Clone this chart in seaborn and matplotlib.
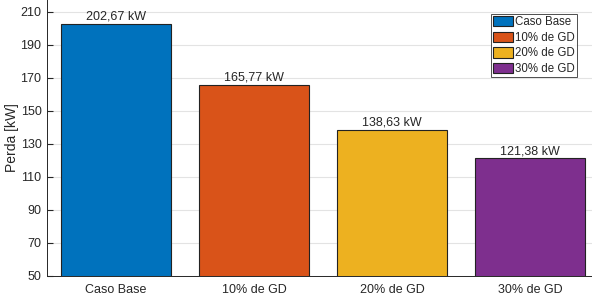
import pandas as pd
import matplotlib.pyplot as plt
import seaborn as sns

# Data
cenarios = ['Caso Base', '10% de GD', '20% de GD', '30% de GD']
perdas = [202.67, 165.77, 138.63, 121.38]
cores = ['#0072BD', '#D95319', '#EDB120', '#7E2F8E']
yticks = [50, 70, 90, 110, 130, 150, 170, 190, 210]

df = pd.DataFrame({'cenario': cenarios, 'perda': perdas})

sns.set_style('white')
plt.rcParams['font.family'] = ['Liberation Sans', 'DejaVu Sans']

fig = plt.figure(figsize=(5.92, 3.02), dpi=100)
ax = fig.add_axes([0.0794, 0.0861, 0.9206, 0.9139])

sns.barplot(data=df, x='cenario', y='perda', hue='cenario', palette=cores,
            saturation=1, width=0.8, edgecolor='#222222', linewidth=0.8,
            dodge=False, legend=False, ax=ax, zorder=3)

# value labels
for i, v in enumerate(perdas):
    ax.text(i, v + 0.6, f'{v:.2f}'.replace('.', ',') + ' kW',
            ha='center', va='bottom', fontsize=9)

ax.set_ylim(50, 217)
ax.set_xlim(-0.5, 3.45)
ax.set_yticks(yticks)
ax.yaxis.grid(True, color='#e3e3e3', linewidth=0.8, zorder=0)
ax.set_axisbelow(True)
ax.set_xlabel('')
ax.set_ylabel('Perda [kW]', fontsize=10, labelpad=1)
ax.tick_params(axis='both', labelsize=9, colors='#262626', direction='in',
               length=4.5, width=0.8)
ax.tick_params(axis='y', left=True, pad=4)
ax.tick_params(axis='x', length=0, pad=6)
for s in ['top', 'right']:
    ax.spines[s].set_visible(False)
for s in ['left', 'bottom']:
    ax.spines[s].set_color('#262626')
    ax.spines[s].set_linewidth(0.7)

# legend
handles = [plt.Rectangle((0, 0), 1, 1, facecolor=c, edgecolor='#222222', linewidth=0.8)
           for c in cores]
leg = ax.legend(handles, cenarios, loc='upper right', bbox_to_anchor=(0.972, 0.95),
                fontsize=8.3, frameon=True, fancybox=False, borderpad=0.2,
                handlelength=1.7, handleheight=1.0, handletextpad=0.15,
                labelspacing=0.3, borderaxespad=0.0)
leg.get_frame().set_edgecolor('#222222')
leg.get_frame().set_linewidth(0.7)

fig.savefig('out.png', dpi=100)
